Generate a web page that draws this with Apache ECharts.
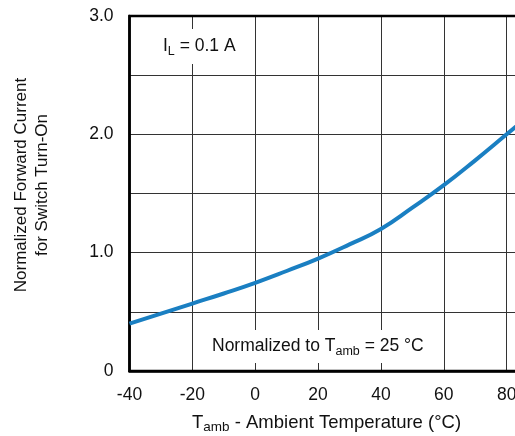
<!DOCTYPE html>
<html>
<head>
<meta charset="utf-8">
<title>Forward current vs temperature</title>
<script src="https://cdn.jsdelivr.net/npm/echarts@6/dist/echarts.min.js"></script>
<style>
html, body { margin: 0; padding: 0; background: #fff; }
#chart { width: 515px; height: 436px; }
</style>
</head>
<body>
<div id="chart"></div>
<script type="text/javascript">
// temperature (°C) and normalized forward current
var temps = [-40, -30, -20, -10, 0, 10, 20, 30, 40, 50, 60, 70, 80, 90];
var current = [0.40, 0.485, 0.57, 0.655, 0.745, 0.845, 0.95, 1.07, 1.20, 1.38, 1.57, 1.78, 2.0, 2.22];
var yTicks = [0, 1, 2, 3];

var font = 'Liberation Sans, Arial, sans-serif';
var data = temps.map(function (t, i) { return [t, current[i]]; });

// normal + subscript text styles for the labels
var rich = {
	n: { fontSize: 17.5, fontFamily: font, fill: '#111' },
	s: { fontSize: 12.5, fontFamily: font, fill: '#111', padding: [10, 0, 0, 0] }
};
var richTitle = {
	n: { fontSize: 18.5, fontFamily: font, fill: '#111' },
	s: { fontSize: 13.5, fontFamily: font, fill: '#111', padding: [10, 0, 0, 0] }
};

var chart = echarts.init(document.getElementById('chart'));
chart.setOption({
	animation: false,
	textStyle: { fontFamily: font },
	grid: {
		left: 129.5,
		top: 16,
		width: 440,
		height: 355,
		outerBoundsMode: 'none',
		containLabel: false,
		show: true,
		borderColor: '#000',
		borderWidth: 2.5,
		z: 3
	},
	xAxis: {
		type: 'value',
		min: -40,
		max: 100,
		interval: 20,
		axisLine: { show: true, onZero: false, lineStyle: { color: '#000', width: 2.5 } },
		axisTick: { show: false },
		axisLabel: { color: '#111', fontSize: 17.5, margin: 15, fontFamily: font },
		splitLine: { show: true, lineStyle: { color: '#333', width: 1 } }
	},
	yAxis: {
		type: 'value',
		min: 0,
		max: 3,
		interval: 0.5,
		axisLine: { show: true, onZero: false, lineStyle: { color: '#000', width: 2.5 } },
		axisTick: { show: false },
		axisLabel: {
			color: '#111', fontSize: 17.5, margin: 16, fontFamily: font,
			formatter: function (v) {
				if (yTicks.indexOf(v) < 0) return '';
				return v === 0 ? '0' : v.toFixed(1);
			}
		},
		splitLine: { show: true, lineStyle: { color: '#333', width: 1 } }
	},
	series: [{
		type: 'line',
		data: data,
		smooth: true,
		symbol: 'none',
		lineStyle: { color: '#1a7fc2', width: 4 },
		z: 4
	}],
	graphic: [
		{
			type: 'text',
			left: 155,
			top: 29,
			z: 10,
			style: {
				text: '{n|I}{s|L}{n| = 0.1 A}',
				backgroundColor: '#fff',
				padding: [6, 8, 6, 8],
				rich: rich
			}
		},
		{
			type: 'text',
			left: 205,
			top: 330,
			z: 10,
			style: {
				text: '{n|Normalized to T}{s|amb}{n| = 25 °C}',
				backgroundColor: '#fff',
				padding: [5, 7, 5, 7],
				rich: rich
			}
		},
		{
			type: 'text',
			left: 192,
			top: 413,
			style: {
				text: '{n|T}{s|amb}{n| - Ambient Temperature (°C)}',
				rich: richTitle
			}
		},
		{
			type: 'text',
			x: 32,
			y: 185,
			rotation: Math.PI / 2,
			style: {
				text: 'Normalized Forward Current\nfor Switch Turn-On',
				fontSize: 17,
				fontFamily: font,
				fill: '#111',
				align: 'center',
				verticalAlign: 'middle',
				lineHeight: 21
			}
		}
	]
});
</script>
</body>
</html>
